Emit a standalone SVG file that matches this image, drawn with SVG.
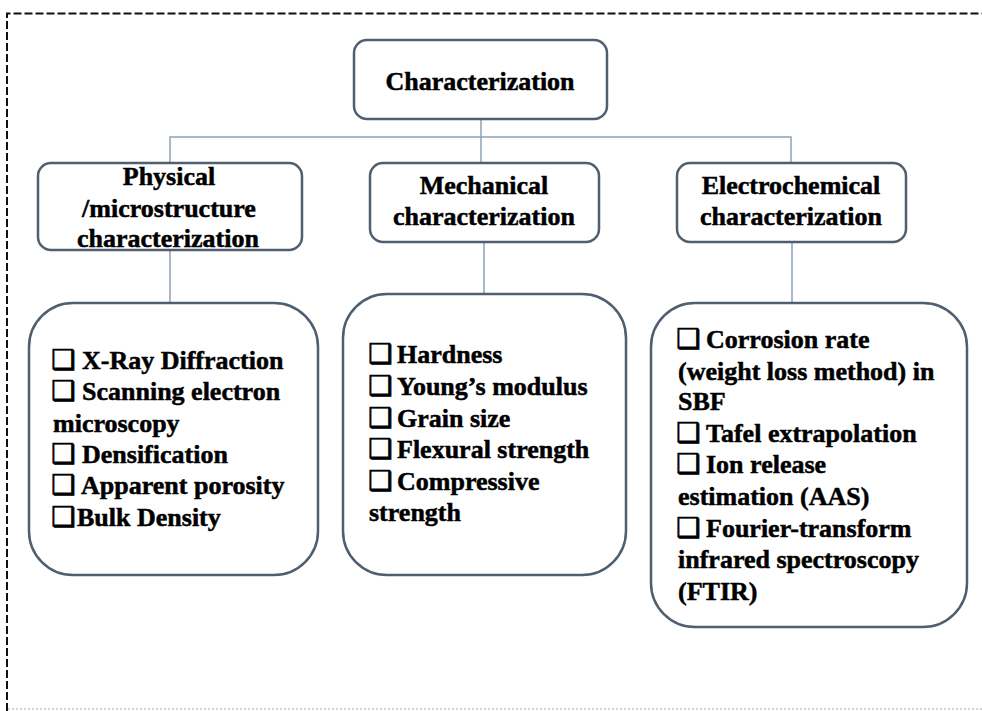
<svg xmlns="http://www.w3.org/2000/svg" width="982" height="711" viewBox="0 0 982 711">
<style>
.frame{fill:none;stroke:#111;stroke-width:2;stroke-dasharray:8 3}
.bottomline{fill:none;stroke:#c8c8c8;stroke-width:1.5;stroke-dasharray:2 2}
.box{fill:#fff;stroke:#4f5f70;stroke-width:2.5}
.conn{fill:none;stroke:#8ea2b4;stroke-width:1.5}
.t{font-weight:bold;font-size:26px;fill:#000;stroke:#000;stroke-width:0.5}
.c{text-anchor:middle}
.sq{font-family:"DejaVu Sans",sans-serif;font-weight:bold;font-size:27px;stroke-width:0.8}
</style>
<rect width="982" height="711" fill="#fff"/>
<path class="frame" d="M7,711 V13.5 H982"/>
<path class="bottomline" d="M8,709 H982"/>
<g id="connectors">
<path class="conn" d="M481,119 V163"/>
<path class="conn" d="M170,163 V137 H791 V163"/>
<path class="conn" d="M170,250 V303"/>
<path class="conn" d="M484,242 V294"/>
<path class="conn" d="M792,242 V303"/>
</g>
<g font-family="Liberation Serif, Tinos, Times New Roman, DejaVu Serif, serif">
<g id="characterization">
<rect class="box" x="354" y="40" width="253" height="79" rx="13"/>
<text class="t c" x="480" y="90">Characterization</text>
</g>
<g id="physical">
<rect class="box" x="38" y="163" width="264" height="87" rx="13"/>
<text class="t c" x="169" y="185">Physical</text>
<text class="t c" x="169" y="217">/microstructure</text>
<text class="t c" x="168" y="247">characterization</text>
</g>
<g id="mechanical">
<rect class="box" x="370" y="163" width="229" height="79" rx="13"/>
<text class="t c" x="484" y="194">Mechanical</text>
<text class="t c" x="484" y="225">characterization</text>
</g>
<g id="electrochemical">
<rect class="box" x="677" y="163" width="229" height="79" rx="13"/>
<text class="t c" x="791" y="194">Electrochemical</text>
<text class="t c" x="791" y="225">characterization</text>
</g>
<g id="physical-list">
<rect class="box" x="29" y="303" width="289" height="272" rx="44"/>
<text class="t"><tspan class="sq" x="51" y="369">❑</tspan><tspan x="82" y="369">X-Ray Diffraction</tspan></text>
<text class="t"><tspan class="sq" x="51" y="400">❑</tspan><tspan x="82" y="400">Scanning electron</tspan></text>
<text class="t" x="53" y="432">microscopy</text>
<text class="t"><tspan class="sq" x="51" y="463">❑</tspan><tspan x="82" y="463">Densification</tspan></text>
<text class="t"><tspan class="sq" x="51" y="494">❑</tspan><tspan x="81" y="494">Apparent porosity</tspan></text>
<text class="t"><tspan class="sq" x="51" y="526">❑</tspan><tspan x="77" y="526">Bulk Density</tspan></text>
</g>
<g id="mechanical-list">
<rect class="box" x="343" y="294" width="283" height="281" rx="44"/>
<text class="t"><tspan class="sq" x="368" y="363">❑</tspan><tspan x="397" y="363">Hardness</tspan></text>
<text class="t"><tspan class="sq" x="368" y="395">❑</tspan><tspan x="397" y="395">Young’s  modulus</tspan></text>
<text class="t"><tspan class="sq" x="368" y="427">❑</tspan><tspan x="397" y="427">Grain size</tspan></text>
<text class="t"><tspan class="sq" x="368" y="458">❑</tspan><tspan x="397" y="458">Flexural strength</tspan></text>
<text class="t"><tspan class="sq" x="368" y="490">❑</tspan><tspan x="397" y="490">Compressive</tspan></text>
<text class="t" x="369" y="521">strength</text>
</g>
<g id="electrochemical-list">
<rect class="box" x="651" y="303" width="316" height="324" rx="44"/>
<text class="t"><tspan class="sq" x="676" y="348">❑</tspan><tspan x="706" y="348">Corrosion rate</tspan></text>
<text class="t" x="678" y="380">(weight loss method) in</text>
<text class="t" x="678" y="410">SBF</text>
<text class="t"><tspan class="sq" x="676" y="442">❑</tspan><tspan x="706" y="442">Tafel extrapolation</tspan></text>
<text class="t"><tspan class="sq" x="676" y="473">❑</tspan><tspan x="706" y="473">Ion release</tspan></text>
<text class="t" x="678" y="505">estimation (AAS)</text>
<text class="t"><tspan class="sq" x="676" y="537">❑</tspan><tspan x="706" y="537">Fourier-transform</tspan></text>
<text class="t" x="678" y="568">infrared spectroscopy</text>
<text class="t" x="678" y="600">(FTIR)</text>
</g>
</g>
</svg>
